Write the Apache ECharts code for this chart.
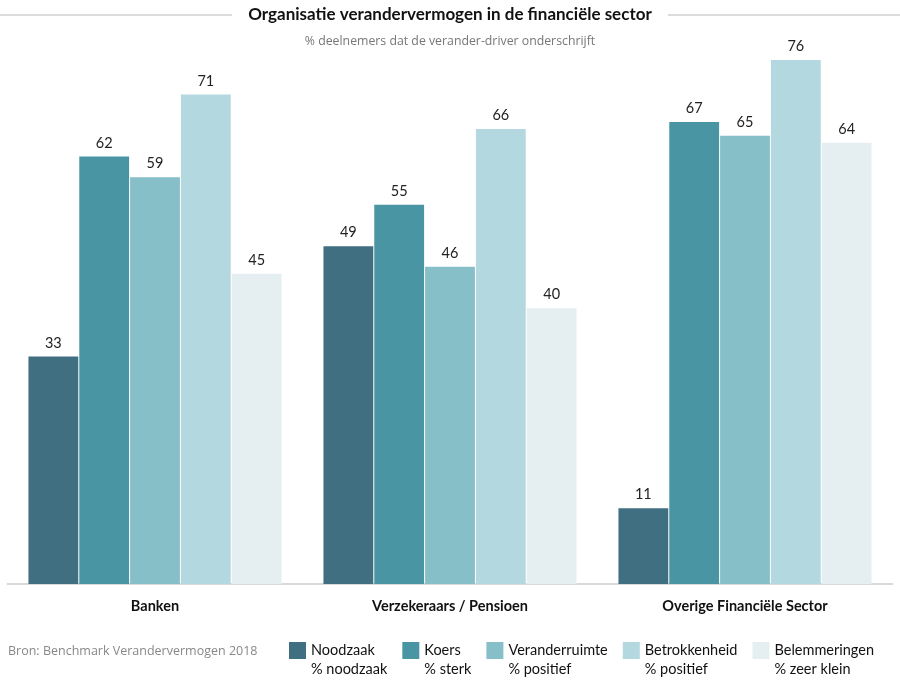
<!DOCTYPE html>
<html>
<head>
<meta charset="utf-8">
<script src="https://cdn.jsdelivr.net/npm/echarts@6/dist/echarts.min.js"></script>
<style>
  html, body { margin: 0; padding: 0; background: #fff; }
  #chart { width: 900px; height: 685px; }
</style>
</head>
<body>
<div id="chart"></div>
<script>
// categorieen en reeksen
var categories = ['Banken', 'Verzekeraars / Pensioen', 'Overige Financiële Sector'];
var seriesNames = ['Noodzaak', 'Koers', 'Veranderruimte', 'Betrokkenheid', 'Belemmeringen'];
var seriesSubs = ['% noodzaak', '% sterk', '% positief', '% positief', '% zeer klein'];
var noodzaak = [33, 49, 11];
var koers = [62, 55, 67];
var veranderruimte = [59, 46, 65];
var betrokkenheid = [71, 66, 76];
var belemmeringen = [45, 40, 64];
var colors = ['#406f82', '#4a95a3', '#87bfc9', '#b4d8df', '#e5eff1'];

var values = [noodzaak, koers, veranderruimte, betrokkenheid, belemmeringen];

var series = [];
for (var i = 0; i < seriesNames.length; i++) {
	series.push({
		name: seriesNames[i],
		type: 'bar',
		barGap: '2%',
		barCategoryGap: '14.2%',
		itemStyle: { color: colors[i] },
		label: {
			show: true,
			position: 'top',
			distance: 6,
			color: '#222',
			fontFamily: 'Lato',
			fontSize: 14.5
		},
		data: values[i]
	});
}

var subMap = {};
for (var j = 0; j < seriesNames.length; j++) subMap[seriesNames[j]] = seriesSubs[j];

var myChart = echarts.init(document.getElementById('chart'));
myChart.setOption({
	animation: false,
	color: colors,
	title: [{
		text: 'Organisatie verandervermogen in de financiële sector',
		left: 'center',
		top: 1,
		textStyle: { fontFamily: 'Lato', fontSize: 17, fontWeight: 'bold', color: '#111' }
	}, {
		text: '% deelnemers dat de verander-driver onderschrijft',
		left: 'center',
		top: 30,
		textStyle: { fontFamily: 'Open Sans', fontSize: 12.3, fontWeight: 'normal', color: '#777' }
	}, {
		text: 'Bron: Benchmark Verandervermogen 2018',
		left: 3,
		top: 640,
		textStyle: { fontFamily: 'Open Sans', fontSize: 12.5, fontWeight: 'normal', color: '#888' }
	}],
	graphic: [
		{ type: 'line', shape: { x1: 0, y1: 15, x2: 232, y2: 15 }, style: { stroke: '#cfcfcf', lineWidth: 1.5 } },
		{ type: 'line', shape: { x1: 668, y1: 15, x2: 900, y2: 15 }, style: { stroke: '#cfcfcf', lineWidth: 1.5 } }
	],
	legend: {
		left: 284,
		top: 617,
		itemWidth: 17,
		itemHeight: 17,
		itemGap: 15,
		icon: 'rect',
		// lege eerste regel zodat het blokje bij de eerste tekstregel staat
		formatter: function (name) { return ' \n' + name + '\n' + subMap[name]; },
		textStyle: {
			fontFamily: 'Lato',
			fontSize: 14.5,
			color: '#111',
			lineHeight: 19
		},
		data: seriesNames
	},
	grid: { left: 7.5, right: 7.5, top: 32.4, bottom: 101 },
	xAxis: {
		type: 'category',
		data: categories,
		axisLine: { lineStyle: { color: '#d9d9d9', width: 2 } },
		axisTick: { show: false },
		axisLabel: {
			margin: 15,
			fontFamily: 'Lato',
			fontSize: 14.5,
			fontWeight: 'bold',
			color: '#111'
		}
	},
	yAxis: {
		type: 'value',
		min: 0,
		max: 80,
		show: false,
		splitLine: { show: false }
	},
	series: series
});
</script>
</body>
</html>
